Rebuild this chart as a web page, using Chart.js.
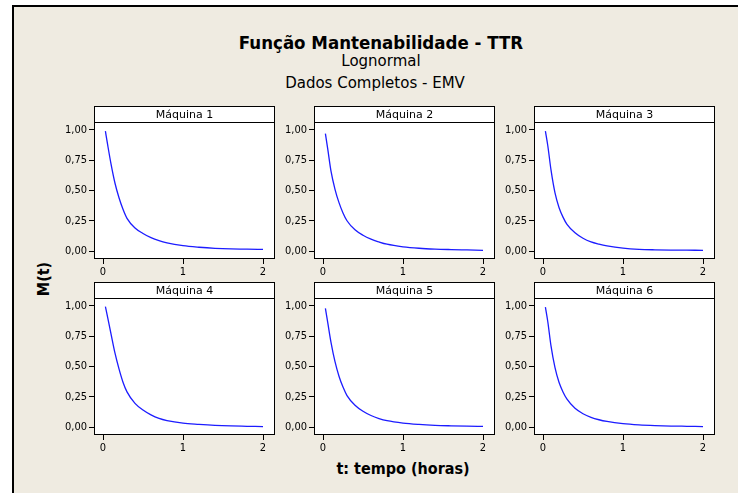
<!DOCTYPE html>
<html>
<head>
<meta charset="utf-8">
<script src="https://cdn.jsdelivr.net/npm/chart.js@4"></script>
<style>
  html, body { margin:0; padding:0; background:#fff; }
  body { width:738px; height:493px; position:relative; overflow:hidden;
         font-family:'DejaVu Sans Condensed','DejaVu Sans',sans-serif; color:#000; }
  #frame { position:absolute; left:12px; top:5px; width:740px; height:500px;
           background:#efebe1; border-left:2px solid #000; border-top:2px solid #000; }
  .txt { position:absolute; white-space:nowrap; transform:translate(-50%,-50%); }
  #title { left:381px; top:42px; font-weight:bold; font-size:18.5px; }
  #sub1 { left:381px; top:61px; font-size:15px; font-family:'DejaVu Sans',sans-serif; }
  #sub2 { left:375px; top:83px; font-size:15px; font-family:'DejaVu Sans',sans-serif; }
  #xlab { left:403px; top:468px; font-weight:bold; font-size:16px; }
  #ylab { left:43px; top:279px; font-weight:bold; font-size:16px; transform:translate(-50%,-50%) rotate(-90deg); }
  canvas { position:absolute; }
</style>
</head>
<body>
<div id="frame"></div>
<div class="txt" id="title">Função Mantenabilidade - TTR</div>
<div class="txt" id="sub1">Lognormal</div>
<div class="txt" id="sub2">Dados Completos - EMV</div>
<div class="txt" id="xlab">t: tempo (horas)</div>
<div class="txt" id="ylab">M(t)</div>

<script>
// tempo (horas) e M(t) de cada máquina
const tempo = [0.03, 0.06, 0.1, 0.15, 0.2, 0.25, 0.3, 0.4, 0.5, 0.6, 0.7, 0.8, 1.0, 1.2, 1.4, 1.6, 1.8, 2.0];
const maquina1 = [0.99, 0.87, 0.72, 0.56, 0.44, 0.345, 0.27, 0.19, 0.145, 0.11, 0.085, 0.067, 0.044, 0.031, 0.022, 0.017, 0.015, 0.014];
const maquina2 = [0.97, 0.84, 0.66, 0.51, 0.40, 0.315, 0.25, 0.175, 0.13, 0.098, 0.075, 0.056, 0.035, 0.023, 0.016, 0.012, 0.009, 0.006];
const maquina3 = [0.99, 0.87, 0.67, 0.48, 0.36, 0.28, 0.22, 0.15, 0.105, 0.075, 0.057, 0.043, 0.024, 0.014, 0.010, 0.008, 0.007, 0.006];
const maquina4 = [0.995, 0.90, 0.77, 0.61, 0.48, 0.37, 0.29, 0.195, 0.14, 0.10, 0.071, 0.053, 0.032, 0.022, 0.014, 0.009, 0.006, 0.003];
const maquina5 = [0.98, 0.86, 0.70, 0.54, 0.42, 0.33, 0.26, 0.18, 0.13, 0.095, 0.07, 0.052, 0.032, 0.021, 0.014, 0.010, 0.007, 0.005];
const maquina6 = [0.99, 0.87, 0.67, 0.49, 0.37, 0.29, 0.23, 0.155, 0.11, 0.08, 0.06, 0.046, 0.028, 0.018, 0.012, 0.008, 0.006, 0.004];
const nomes = ['Máquina 1', 'Máquina 2', 'Máquina 3', 'Máquina 4', 'Máquina 5', 'Máquina 6'];
const series = [maquina1, maquina2, maquina3, maquina4, maquina5, maquina6];
const xTicks = [0, 1, 2];
const yTicks = [0, 0.25, 0.5, 0.75, 1];

// grade 2x3: posição da área de plotagem de cada painel
const colLeft = [94, 314, 534];
const rowTop = [122, 298];
const plotW = 181, plotH = 137;
const HEAD = 16, PADT = 18, AXW = 60, AXH = 30, PADR = 4;

const tickFont = { family: "'DejaVu Sans Condensed','DejaVu Sans',sans-serif", size: 11 };

// caixa do painel + faixa de título (Máquina n)
const panelBox = {
  id: 'panelBox',
  afterDraw(chart, args, opts) {
    const { ctx, chartArea: a } = chart;
    ctx.save();
    ctx.fillStyle = '#fff';
    ctx.fillRect(a.left, a.top - HEAD, a.right - a.left, HEAD);
    ctx.strokeStyle = '#000';
    ctx.lineWidth = 1;
    ctx.strokeRect(Math.round(a.left) + 0.5, Math.round(a.top - HEAD) + 0.5,
                   Math.round(a.right - a.left) - 1, HEAD);
    ctx.strokeRect(Math.round(a.left) + 0.5, Math.round(a.top) + 0.5,
                   Math.round(a.right - a.left) - 1, Math.round(a.bottom - a.top) - 1);
    ctx.fillStyle = '#000';
    ctx.font = "11px 'DejaVu Sans',sans-serif";
    ctx.textAlign = 'center';
    ctx.textBaseline = 'middle';
    ctx.fillText(opts.label, (a.left + a.right) / 2, a.top - HEAD / 2 + 1);
    ctx.restore();
  }
};

const bgWhite = {
  id: 'bgWhite',
  beforeDraw(chart) {
    const { ctx, chartArea: a } = chart;
    ctx.save();
    ctx.fillStyle = '#fff';
    ctx.fillRect(a.left, a.top, a.right - a.left, a.bottom - a.top);
    ctx.restore();
  }
};

series.forEach((vals, i) => {
  const cv = document.createElement('canvas');
  const left = colLeft[i % 3] - AXW;
  const top = rowTop[Math.floor(i / 3)] - PADT;
  const w = AXW + plotW + PADR, h = PADT + plotH + AXH;
  cv.width = w; cv.height = h;
  cv.style.left = left + 'px'; cv.style.top = top + 'px';
  cv.style.width = w + 'px'; cv.style.height = h + 'px';
  document.body.appendChild(cv);

  new Chart(cv.getContext('2d'), {
    type: 'line',
    data: {
      datasets: [{
        data: tempo.map((t, k) => ({ x: t, y: vals[k] })),
        borderColor: '#1c1cff', borderWidth: 1.3, pointRadius: 0,
        cubicInterpolationMode: 'monotone', fill: false
      }]
    },
    options: {
      responsive: false, animation: false, devicePixelRatio: 1,
      layout: { padding: { top: PADT, right: PADR, left: 0, bottom: 0 } },
      plugins: { legend: { display: false }, tooltip: { enabled: false },
                 panelBox: { label: nomes[i] } },
      scales: {
        x: {
          type: 'linear', min: -0.1125, max: 2.15,
          afterFit: s => { s.height = AXH; },
          afterBuildTicks: s => { s.ticks = xTicks.map(v => ({ value: v })); },
          grid: { drawOnChartArea: false, drawTicks: true, tickLength: 5, color: '#000' },
          border: { display: false },
          ticks: { color: '#000', font: tickFont, padding: 2, maxRotation: 0,
                   callback: v => String(v) }
        },
        y: {
          type: 'linear', min: -0.066, max: 1.066,
          afterFit: s => { s.width = AXW; },
          afterBuildTicks: s => { s.ticks = yTicks.map(v => ({ value: v })); },
          grid: { drawOnChartArea: false, drawTicks: true, tickLength: 5, color: '#000' },
          border: { display: false },
          ticks: { color: '#000', font: tickFont, padding: 2,
                   callback: v => v.toFixed(2).replace('.', ',') }
        }
      }
    },
    plugins: [bgWhite, panelBox]
  });
});
</script>
</body>
</html>
